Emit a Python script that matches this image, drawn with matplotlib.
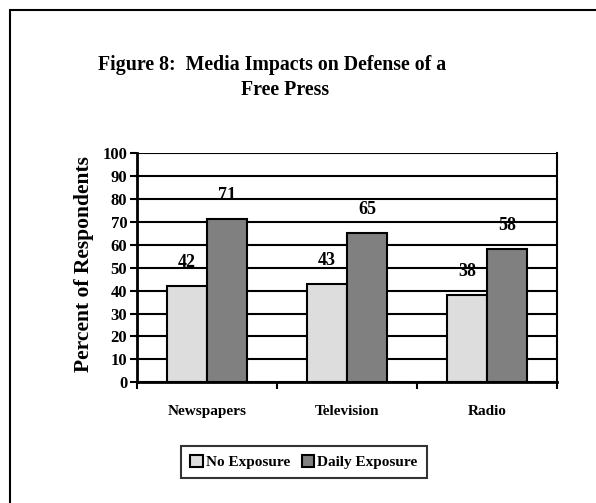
import numpy as np
import matplotlib
matplotlib.use('Agg')
import matplotlib.pyplot as plt
from matplotlib.patches import Rectangle

# donnees
categories = ["Newspapers", "Television", "Radio"]
no_exposure = [42, 43, 38]
daily_exposure = [71, 65, 58]
series_names = ["No Exposure", "Daily Exposure"]
yticks = list(range(0, 101, 10))

plt.rcParams['font.family'] = ['Liberation Serif', 'DejaVu Serif']
plt.rcParams['font.weight'] = 'bold'

fig = plt.figure(figsize=(5.96, 5.03), dpi=100)
ax = fig.add_axes([137/596, 1-382.3/503, 420/596, (382.3-153)/503])

x = np.arange(len(categories))
w = 40/140.
b1 = ax.bar(x - w/2, no_exposure, w, color='#dddddd', edgecolor='black', linewidth=1.5, zorder=3, label=series_names[0])
b2 = ax.bar(x + w/2, daily_exposure, w, color='#808080', edgecolor='black', linewidth=1.5, zorder=3, label=series_names[1])

for bars, vals in ((b1, no_exposure), (b2, daily_exposure)):
    for r, v in zip(bars, vals):
        ax.annotate(str(v), (r.get_x() + r.get_width()/2, v), xytext=(0, 17),
                    textcoords='offset points', ha='center', va='center',
                    fontsize=13, fontweight='bold')

ax.set_xlim(-0.5, len(categories) - 0.5)
ax.set_ylim(0, 100)
ax.set_yticks(yticks)
ax.set_yticklabels([str(t) for t in yticks], fontsize=12, fontweight='bold')
ax.yaxis.grid(True, color='black', linewidth=1.5, zorder=0)
ax.set_axisbelow(True)

# ticks x aux frontieres des categories
ax.set_xticks(np.arange(len(categories) + 1) - 0.5)
ax.set_xticklabels([])
ax.set_xticks(x, minor=True)
ax.set_xticklabels(categories, minor=True, fontsize=11, fontweight='bold')
ax.tick_params(axis='x', which='minor', length=0, pad=16)
ax.tick_params(axis='x', which='major', length=5, width=1.5, direction='out')
ax.tick_params(axis='y', length=5, width=1.5, pad=2)

ax.spines['left'].set_linewidth(2)
ax.spines['bottom'].set_linewidth(2)
ax.spines['right'].set_linewidth(1.5)
ax.spines['top'].set_visible(False)

ax.set_ylabel("Percent of Respondents", fontsize=15.5, fontweight='bold', va='center')
ax.yaxis.set_label_coords((84-137)/420., (382.3-264)/229.3)

# titre
fig.text(272/596, 1-65/503, "Figure 8:  Media Impacts on Defense of a", ha='center', va='center',
         fontsize=14.3, fontweight='bold')
fig.text(285/596, 1-90/503, "Free Press", ha='center', va='center', fontsize=14.3, fontweight='bold')

leg = fig.legend(handles=[b1, b2], loc='center', bbox_to_anchor=(304/596, 1-462/503), ncol=2,
                 frameon=True, fancybox=False, edgecolor='black',
                 handlelength=0.8, handleheight=0.8, handletextpad=0.2, columnspacing=0.8,
                 borderpad=0.6, prop={'weight': 'bold', 'size': 11})
leg.get_frame().set_linewidth(1.5)

# cadre exterieur
fig.patches.append(Rectangle((10/596, -0.1), 1.2, 1-10/503 + 0.1, transform=fig.transFigure,
                             fill=False, edgecolor='black', linewidth=1.5))

fig.savefig("out.png", dpi=100)
